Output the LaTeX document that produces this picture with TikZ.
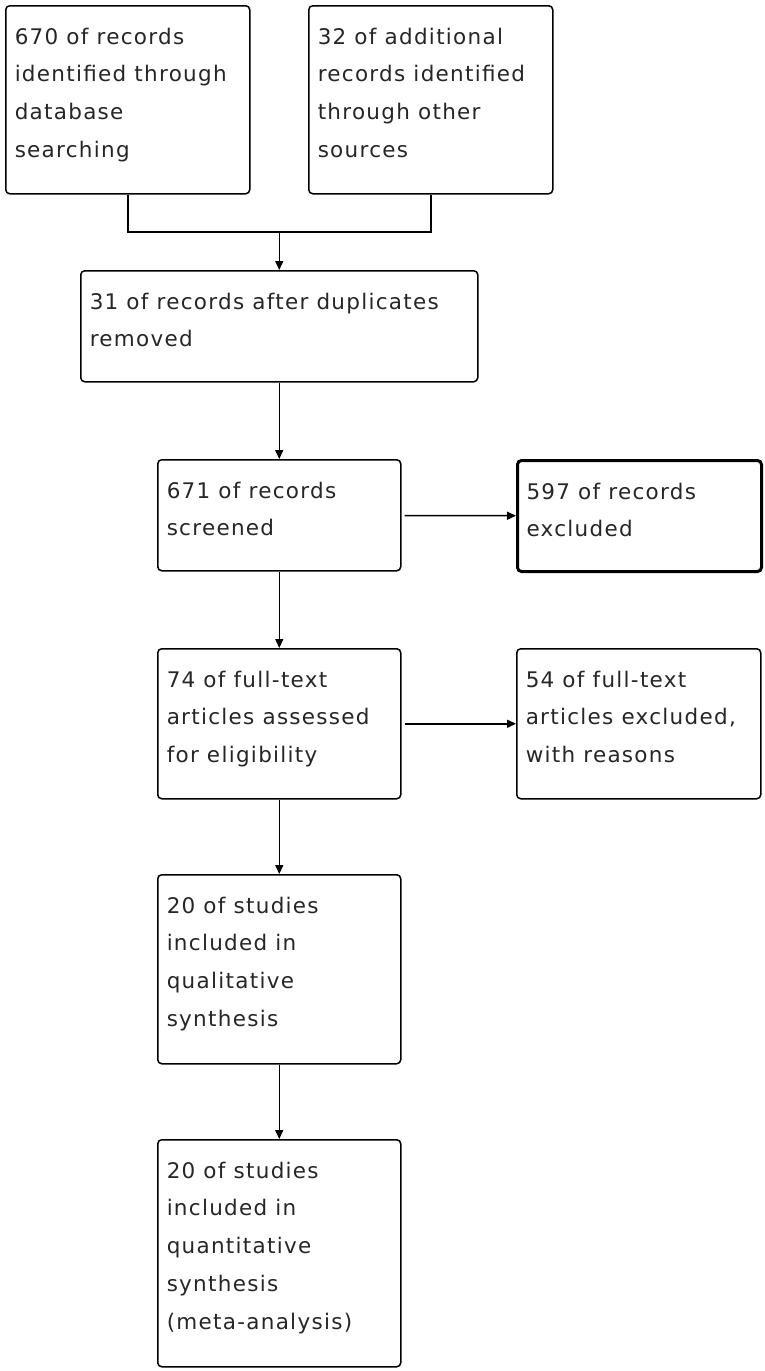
\documentclass[tikz,border=0pt]{standalone}
\usepackage{fontspec}
\setmainfont{DejaVu Sans}[LetterSpace=6]
\usetikzlibrary{arrows.meta}
\newcommand{\boxtext}[3]{\parbox[t][#2][t]{#1}{\raggedright\rule{0pt}{38.5pt}#3}}
\tikzset{
  stage/.style={draw, rounded corners=4pt, line width=1.5pt, anchor=north west,
    inner xsep=9pt, inner ysep=0pt, text=black!85, font=\fontsize{21.5}{37.7}\selectfont},
  flow/.style={-{Triangle[length=9pt,width=8pt]}, line width=1.5pt},
}
\begin{document}
\begin{tikzpicture}[x=1pt,y=-1pt]
\useasboundingbox (0,0) rectangle (765,1371);
\node(records) at (5,5)[stage]        {\boxtext{226pt}{188pt}{670 of records\\identified through\\database\\searching}};
\node(other) at (308,5)[stage]        {\boxtext{226pt}{188pt}{32 of additional\\records identified\\through other\\sources}};
\node(dedup) at (80,270)[stage]       {\boxtext{379pt}{111pt}{31 of records after duplicates\\removed}};
\node(screened) at (157,459)[stage]   {\boxtext{225pt}{111pt}{671 of records\\screened}};
\node(excluded) at (516,459)[stage,line width=3pt] {\boxtext{226pt}{111pt}{597 of records\\excluded}};
\node(fulltext) at (157,648)[stage]   {\boxtext{225pt}{150pt}{74 of full-text\\articles assessed\\for eligibility}};
\node(ftexcl) at (516,648)[stage]     {\boxtext{226pt}{150pt}{54 of full-text\\articles excluded,\\with reasons}};
\node(qual) at (157,874)[stage]       {\boxtext{225pt}{189pt}{20 of studies\\included in\\qualitative\\synthesis}};
\node(quant) at (157,1139)[stage]     {\boxtext{225pt}{227pt}{20 of studies\\included in\\quantitative\\synthesis\\(meta-analysis)}};
\coordinate(merge) at (dedup.north |- 0,232);

\draw [line width=1.5pt] (records.south) |- (merge) -| (other.south);
\path [flow]
  (merge)      edge                     (dedup.north)
  (dedup)      edge                     (screened)
  (screened)   edge [shorten <=3pt]     (excluded)
  (screened)   edge                     (fulltext)
  (fulltext)   edge [shorten <=3pt]     (ftexcl)
  (fulltext)   edge                     (qual)
  (qual)       edge                     (quant);
\end{tikzpicture}
\end{document}
